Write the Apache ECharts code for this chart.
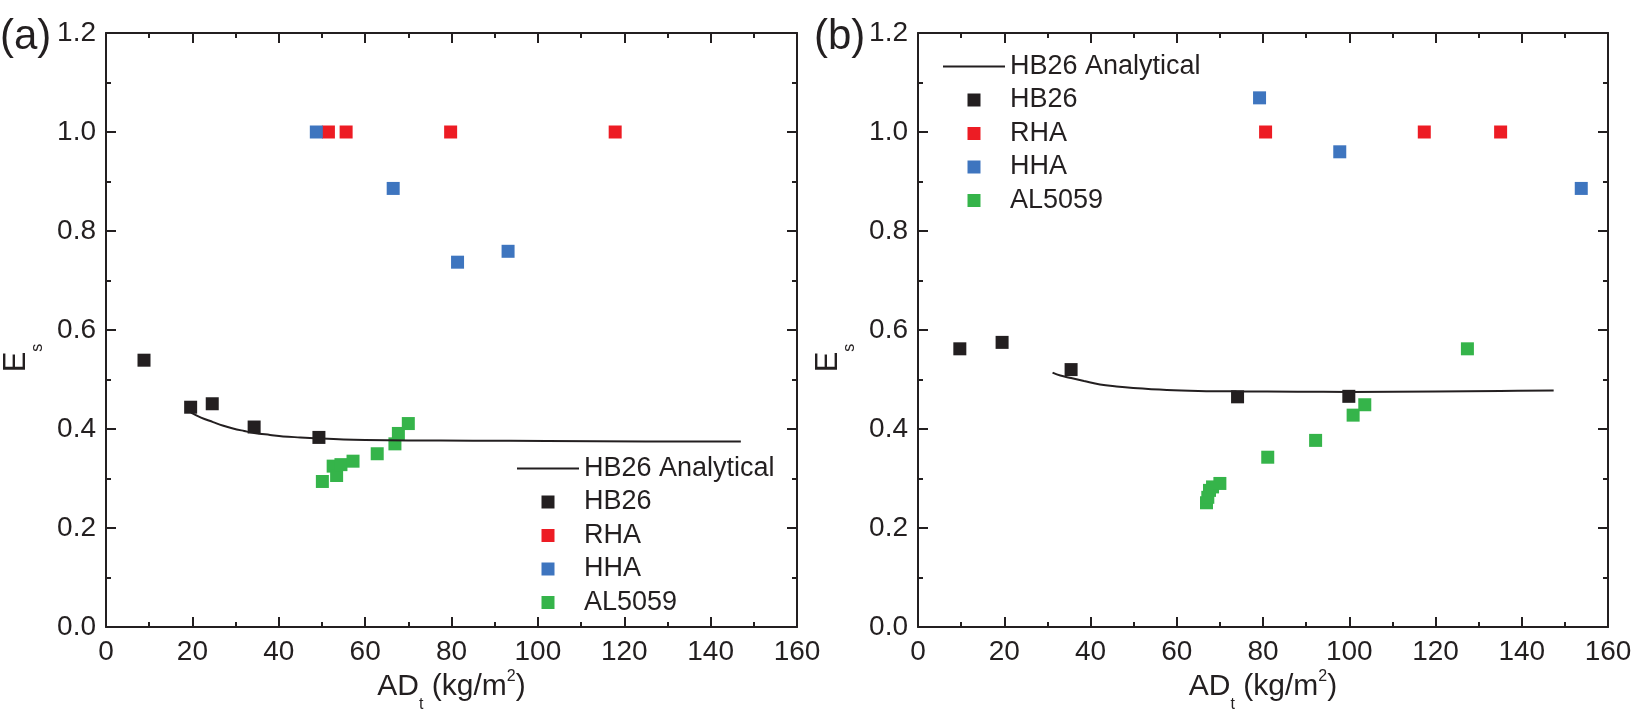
<!DOCTYPE html>
<html>
<head>
<meta charset="utf-8">
<title>Es vs ADt</title>
<script src="https://cdn.jsdelivr.net/npm/echarts@6/dist/echarts.min.js"></script>
<style>
  html, body { margin: 0; padding: 0; background: #ffffff; }
  #chart { width: 1632px; height: 709px; }
</style>
</head>
<body>
<div id="chart"></div>
<script>
// ---- Data -------------------------------------------------------------
// Axis ranges (x: areal density ADt in kg/m^2, y: Es)
const xRange = { min: 0, max: 160, interval: 20 };
const yRange = { min: 0, max: 1.2, interval: 0.2 };

// Panel (a)
const a_analytical = [[19.7,0.433],[22,0.423],[24.8,0.414],[27,0.407],[29.4,0.401],[32,0.396],[34.3,0.392],[38,0.388],[41,0.385],[45,0.383],[49.4,0.381],[55,0.379],[60,0.378],[70,0.377],[85,0.3765],[102,0.376],[125,0.375],[147,0.3745]];
const a_HB26   = [[8.8,0.539],[19.6,0.444],[24.6,0.451],[34.3,0.404],[49.3,0.383]];
const a_RHA    = [[51.5,1.0],[55.6,1.0],[79.8,1.0],[117.9,1.0]];
const a_HHA    = [[48.7,1.0],[66.5,0.886],[81.4,0.737],[93.1,0.759]];
const a_AL5059 = [[50.1,0.294],[52.6,0.325],[53.4,0.306],[54.4,0.328],[57.2,0.335],[62.8,0.350],[66.9,0.370],[67.7,0.391],[70.0,0.411]];

// Panel (b)
const b_analytical = [[31.2,0.514],[33,0.508],[35.5,0.503],[38.5,0.497],[42.2,0.490],[46,0.486],[49.9,0.483],[57.7,0.479],[65,0.477],[74,0.476],[88,0.4755],[100,0.475],[120,0.476],[135,0.477],[147.4,0.478]];
const b_HB26   = [[9.7,0.562],[19.5,0.575],[35.5,0.520],[74.1,0.465],[99.9,0.466]];
const b_RHA    = [[80.6,1.0],[117.4,1.0],[135.1,1.0]];
const b_HHA    = [[79.2,1.069],[97.8,0.960],[153.8,0.886]];
const b_AL5059 = [[66.9,0.251],[67.2,0.262],[67.6,0.276],[68.3,0.283],[70.0,0.290],[81.1,0.343],[92.2,0.377],[100.9,0.428],[103.6,0.449],[127.4,0.562]];

const seriesNames = ['HB26 Analytical', 'HB26', 'RHA', 'HHA', 'AL5059'];
const colors = { HB26: '#231f20', RHA: '#ed1c24', HHA: '#3e75bf', AL5059: '#35b44a' };

// ---- Styling helpers ------------------------------------------------------
const INK = '#231f20';
const FONT = '"Liberation Sans", Arial, Helvetica, sans-serif';

const grids = [
  { left: 106, top: 33, width: 691, height: 594, outerBoundsMode: 'none', containLabel: false },
  { left: 918, top: 33, width: 690, height: 594, outerBoundsMode: 'none', containLabel: false }
];

function richName(size, subDrop) {
  return {
    n:   { fontSize: size, fontFamily: FONT, color: INK, lineHeight: 36 },
    sub: { fontSize: 16, fontFamily: FONT, color: INK, lineHeight: 36, padding: [subDrop, 0, 0, 0] },
    sup: { fontSize: 16, fontFamily: FONT, color: INK, lineHeight: 36, padding: [0, 0, 20, 0] }
  };
}

function baseAxis(extra) {
  return Object.assign({
    type: 'value',
    axisLine: { show: true, onZero: false, lineStyle: { color: INK, width: 2 } },
    axisTick: { show: true, inside: true, length: 10, lineStyle: { color: INK, width: 2 } },
    minorTick: { show: true, splitNumber: 2, length: 5, lineStyle: { color: INK, width: 2 } },
    splitLine: { show: false },
    minorSplitLine: { show: false }
  }, extra);
}

function xAxes(gi) {
  return [
    baseAxis({
      gridIndex: gi, position: 'bottom', min: xRange.min, max: xRange.max, interval: xRange.interval,
      axisLabel: { show: true, margin: 11, fontSize: 28, fontFamily: FONT, color: INK },
      name: '{n|AD}{sub|t}{n| (kg/m}{sup|2}{n|)}',
      nameLocation: 'middle', nameGap: 42, nameMoveOverlap: false,
      nameTextStyle: { rich: richName(30, 35) }
    }),
    baseAxis({
      gridIndex: gi, position: 'top', min: xRange.min, max: xRange.max, interval: xRange.interval,
      axisLabel: { show: false }
    })
  ];
}

function yAxes(gi) {
  return [
    baseAxis({
      gridIndex: gi, position: 'left', min: yRange.min, max: yRange.max, interval: yRange.interval,
      axisLabel: { show: true, margin: 10, fontSize: 28, fontFamily: FONT, color: INK,
                   formatter: v => v.toFixed(1) },
      name: '{n|E}{sub|s}',
      nameLocation: 'middle', nameRotate: 90, nameGap: 72, nameMoveOverlap: false,
      nameTextStyle: { padding: [0, 56, 0, 0], rich: richName(31, 44) }
    }),
    baseAxis({
      gridIndex: gi, position: 'right', min: yRange.min, max: yRange.max, interval: yRange.interval,
      axisLabel: { show: false }
    })
  ];
}

function panelSeries(axisIdx, line, hb, rha, hha, al) {
  const scatter = (name, data) => ({
    name, type: 'scatter', xAxisIndex: axisIdx, yAxisIndex: axisIdx,
    data, symbol: 'rect', symbolSize: 13,
    itemStyle: { color: colors[name], opacity: 1 },
    emphasis: { disabled: true }
  });
  return [
    {
      name: 'HB26 Analytical', type: 'line', xAxisIndex: axisIdx, yAxisIndex: axisIdx,
      data: line, smooth: 0.4, showSymbol: false, symbol: 'none',
      lineStyle: { color: INK, width: 2 }, itemStyle: { color: INK },
      emphasis: { disabled: true }
    },
    scatter('HB26', hb),
    scatter('RHA', rha),
    scatter('HHA', hha),
    scatter('AL5059', al)
  ];
}

// Legend glyphs: a filled square for the point series, a thin bar for the curve
const squareIcon = 'path://M0,0H1V1H0Z';
const lineIcon = 'path://M0,0H62V2H0Z';
function legendAt(left, top) {
  return {
    orient: 'vertical', left, top, padding: 0,
    itemWidth: 62, itemHeight: 13, itemGap: 6.5,
    selectedMode: false,
    textStyle: { fontSize: 27, lineHeight: 27, fontFamily: FONT, color: INK },
    data: seriesNames.map(n => ({ name: n, icon: n === 'HB26 Analytical' ? lineIcon : squareIcon }))
  };
}

const option = {
  backgroundColor: '#ffffff',
  animation: false,
  textStyle: { fontFamily: FONT },
  title: [
    { text: '(a)', left: 0, top: 16, padding: 0, textStyle: { fontSize: 42, fontWeight: 'normal', fontFamily: FONT, color: INK } },
    { text: '(b)', left: 814, top: 16, padding: 0, textStyle: { fontSize: 42, fontWeight: 'normal', fontFamily: FONT, color: INK } }
  ],
  grid: grids,
  xAxis: [...xAxes(0), ...xAxes(1)],
  yAxis: [...yAxes(0), ...yAxes(1)],
  legend: [legendAt(517, 455), legendAt(943, 53)],
  series: [
    ...panelSeries(0, a_analytical, a_HB26, a_RHA, a_HHA, a_AL5059),
    ...panelSeries(2, b_analytical, b_HB26, b_RHA, b_HHA, b_AL5059)
  ]
};

const chart = echarts.init(document.getElementById('chart'), null, { renderer: 'canvas' });
chart.setOption(option);
</script>
</body>
</html>
